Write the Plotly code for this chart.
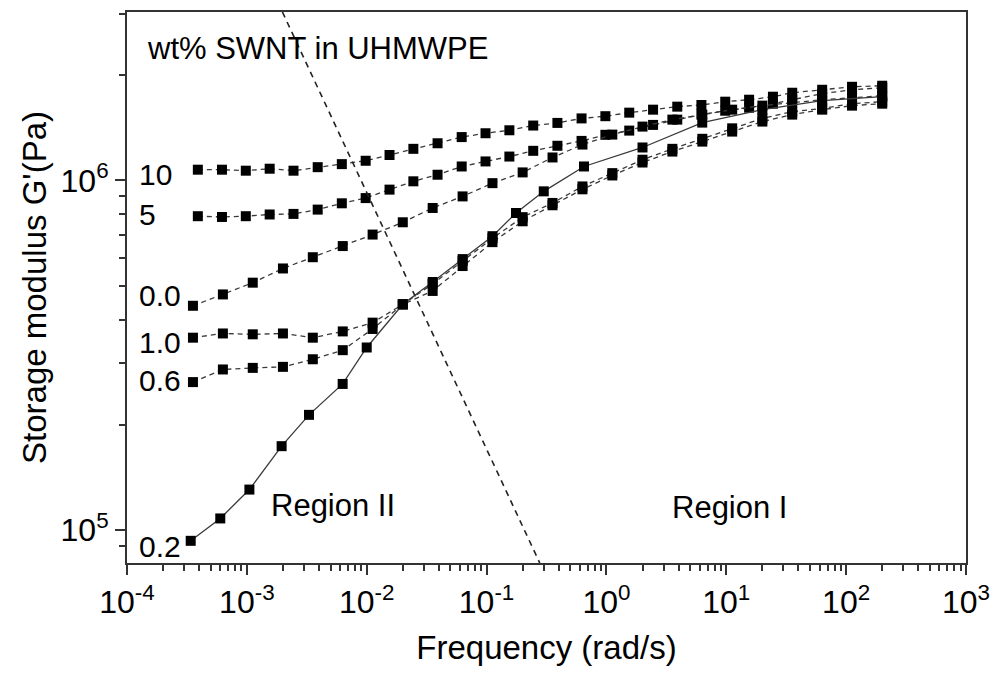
import plotly.graph_objects as go

# ---------------- data ----------------
# frequency grid used by the 0.0 / 0.6 / 1.0 wt% samples (rad/s)
freq_a = [3.55e-4, 6.31e-4, 1.12e-3, 2.0e-3, 3.55e-3, 6.31e-3, 1.12e-2, 2.0e-2,
          3.55e-2, 6.31e-2, 0.112, 0.2, 0.355, 0.631, 1.12, 2.0, 3.55, 6.31,
          11.2, 20.0, 35.5, 63.1, 112.0, 200.0]
# frequency grid used by the 5 / 10 wt% samples (rad/s)
freq_b = [3.9e-4, 6.2e-4, 9.8e-4, 1.55e-3, 2.45e-3, 3.9e-3, 6.2e-3, 9.8e-3,
          1.55e-2, 2.45e-2, 3.9e-2, 6.2e-2, 9.8e-2, 0.155, 0.245, 0.39, 0.62,
          0.98, 1.55, 2.45, 3.9, 6.2, 9.8, 15.5, 24.5, 35.5, 63.1, 112.0, 200.0]
# frequency grid used by the 0.2 wt% sample (rad/s)
freq_c = [3.4e-4, 6.0e-4, 1.05e-3, 1.95e-3, 3.3e-3, 6.3e-3, 1.0e-2, 2.0e-2,
          3.55e-2, 6.31e-2, 0.112, 0.176, 0.30, 0.65, 2.0, 6.3, 20.0, 63.0, 200.0]

# storage modulus G' (Pa)
g_10 = [1.073e6, 1.073e6, 1.066e6, 1.080e6, 1.066e6, 1.091e6, 1.113e6, 1.138e6,
        1.182e6, 1.231e6, 1.277e6, 1.330e6, 1.364e6, 1.391e6, 1.435e6, 1.460e6,
        1.504e6, 1.526e6, 1.562e6, 1.593e6, 1.625e6, 1.643e6, 1.679e6, 1.701e6,
        1.735e6, 1.781e6, 1.816e6, 1.852e6, 1.865e6]
g_5 = [0.790e6, 0.786e6, 0.790e6, 0.799e6, 0.802e6, 0.825e6, 0.860e6, 0.890e6,
       0.941e6, 0.994e6, 1.038e6, 1.096e6, 1.133e6, 1.170e6, 1.215e6, 1.256e6,
       1.297e6, 1.350e6, 1.388e6, 1.441e6, 1.492e6, 1.542e6, 1.582e6, 1.614e6,
       1.657e6, 1.701e6, 1.770e6, 1.816e6, 1.841e6]
g_00 = [0.438e6, 0.472e6, 0.510e6, 0.560e6, 0.603e6, 0.649e6, 0.700e6, 0.759e6,
        0.834e6, 0.900e6, 0.982e6, 1.054e6, 1.163e6, 1.266e6, 1.352e6, 1.425e6,
        1.492e6, 1.542e6, 1.593e6, 1.636e6, 1.668e6, 1.701e6, 1.723e6, 1.746e6]
g_10w = [0.355e6, 0.365e6, 0.363e6, 0.365e6, 0.355e6, 0.370e6, 0.392e6, 0.442e6,
         0.506e6, 0.588e6, 0.683e6, 0.785e6, 0.862e6, 0.961e6, 1.049e6, 1.146e6,
         1.231e6, 1.315e6, 1.409e6, 1.504e6, 1.572e6, 1.607e6, 1.657e6, 1.679e6]
g_06 = [0.265e6, 0.288e6, 0.291e6, 0.293e6, 0.308e6, 0.327e6, 0.376e6, 0.442e6,
        0.483e6, 0.569e6, 0.666e6, 0.764e6, 0.849e6, 0.943e6, 1.033e6, 1.125e6,
        1.209e6, 1.291e6, 1.379e6, 1.473e6, 1.542e6, 1.593e6, 1.636e6, 1.657e6]
g_02 = [0.0932e6, 0.108e6, 0.1306e6, 0.1738e6, 0.2136e6, 0.2618e6, 0.3328e6,
        0.4424e6, 0.5122e6, 0.5956e6, 0.6926e6, 0.8069e6, 0.9304e6, 1.096e6,
        1.242e6, 1.463e6, 1.593e6, 1.690e6, 1.735e6]

# dashed boundary between Region II and Region I
boundary_freq = [1.98e-3, 0.278]
boundary_g = [3.03e6, 8.05e4]

series_labels = ["10", "5", "0.0", "1.0", "0.6", "0.2"]
label_logy = [6.018, 5.903, 5.672, 5.536, 5.427, 4.952]

x_tickvals = [1e-4, 1e-3, 1e-2, 1e-1, 1e0, 1e1, 1e2, 1e3]
x_ticktext = ["10<sup>-4</sup>", "10<sup>-3</sup>", "10<sup>-2</sup>", "10<sup>-1</sup>",
              "10<sup>0</sup>", "10<sup>1</sup>", "10<sup>2</sup>", "10<sup>3</sup>"]
y_tickvals = [1e5, 1e6]
y_ticktext = ["10<sup>5</sup>", "10<sup>6</sup>"]

# ---------------- figure ----------------
FONT = "Liberation Sans, Arial, Helvetica, sans-serif"
LINE_COL = "#3a3a3a"
fig = go.Figure()

series = [
    (freq_b, g_10, "dash"),
    (freq_b, g_5, "dash"),
    (freq_a, g_00, "dash"),
    (freq_a, g_10w, "dash"),
    (freq_a, g_06, "dash"),
    (freq_c, g_02, "solid"),
]
for (fx, gy, dash), name in zip(series, series_labels):
    fig.add_trace(go.Scatter(
        x=fx, y=gy, mode="lines+markers", name=name,
        line=dict(color=LINE_COL, width=1.3, dash=("5px,4px" if dash == "dash" else "solid")),
        marker=dict(symbol="square", size=10, color="black", line=dict(width=0)),
        showlegend=False))

fig.add_trace(go.Scatter(
    x=boundary_freq, y=boundary_g, mode="lines",
    line=dict(color="#222222", width=1.6, dash="6px,5px"),
    showlegend=False))

for lab, ly in zip(series_labels, label_logy):
    fig.add_annotation(text=lab, xref="paper", yref="y", x=0.012, y=ly,
                       xanchor="left", yanchor="middle", showarrow=False,
                       font=dict(size=30, color="black", family=FONT))

fig.add_annotation(text="wt% SWNT in UHMWPE", xref="paper", yref="paper",
                   x=0.022, y=0.933, xanchor="left", yanchor="middle",
                   showarrow=False, font=dict(size=31, color="black", family=FONT))
fig.add_annotation(text="Region II", xref="paper", yref="paper",
                   x=0.246, y=0.105, xanchor="center", yanchor="middle",
                   showarrow=False, font=dict(size=31, color="black", family=FONT))
fig.add_annotation(text="Region I", xref="paper", yref="paper",
                   x=0.718, y=0.100, xanchor="center", yanchor="middle",
                   showarrow=False, font=dict(size=31, color="black", family=FONT))

axis_common = dict(
    showline=True, linecolor="#333333", linewidth=2, mirror=True,
    ticks="outside", ticklen=10, tickwidth=1.5, tickcolor="#333333",
    showgrid=False, zeroline=False,
    tickfont=dict(size=32, color="black", family=FONT),
    minor=dict(ticks="outside", ticklen=6, tickwidth=1.5, tickcolor="#333333",
               dtick="D1", showgrid=False),
)

fig.update_xaxes(type="log", range=[-4, 3], tickvals=x_tickvals, ticktext=x_ticktext,
                 title=dict(text="Frequency (rad/s)", font=dict(size=33, color="black", family=FONT),
                            standoff=16),
                 **axis_common)
fig.update_yaxes(type="log", range=[4.906, 6.4815], tickvals=y_tickvals, ticktext=y_ticktext,
                 title=dict(text="Storage modulus G'(Pa)", font=dict(size=33, color="black", family=FONT),
                            standoff=4),
                 **axis_common)

fig.update_layout(
    width=1000, height=676,
    margin=dict(l=127, r=29, t=10, b=113),
    paper_bgcolor="white", plot_bgcolor="white",
    font=dict(family=FONT, color="black"),
)

fig.write_html("out.html")
